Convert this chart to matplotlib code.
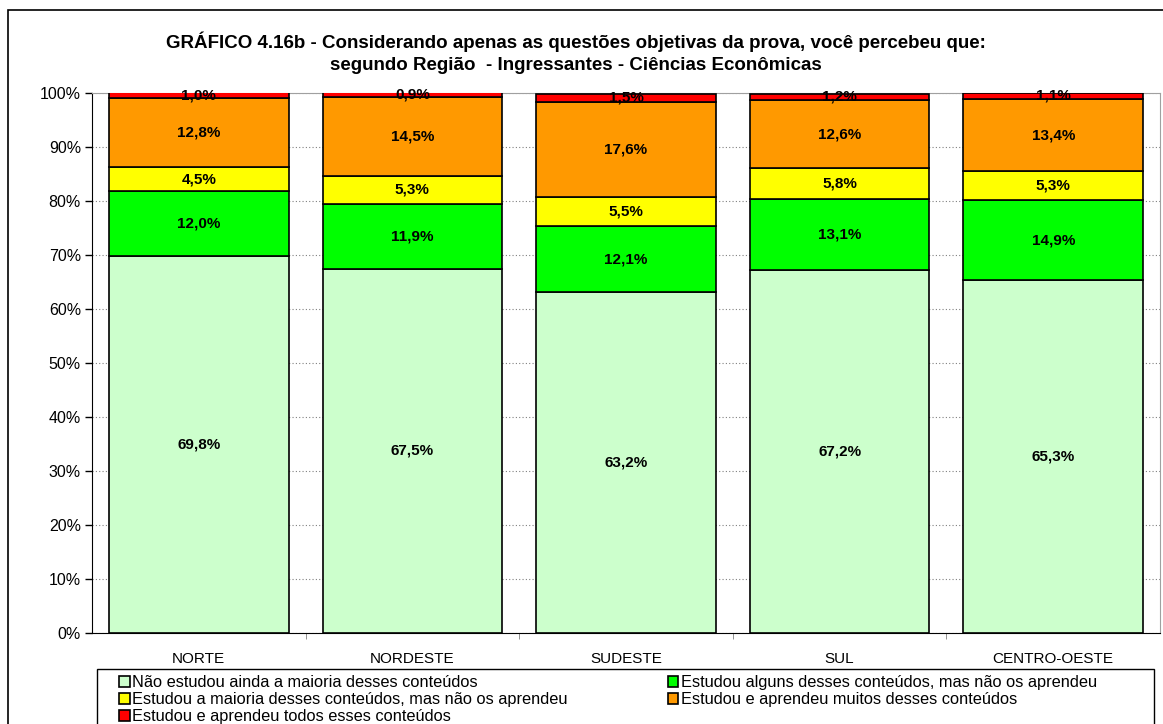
import matplotlib.pyplot as plt
import matplotlib.patches as mpatches
import numpy as np

plt.rcParams['font.family'] = ['Liberation Sans', 'DejaVu Sans']

regioes = ["NORTE", "NORDESTE", "SUDESTE", "SUL", "CENTRO-OESTE"]

nao_estudou = [69.8, 67.5, 63.2, 67.2, 65.3]
alguns_nao_aprendeu = [12.0, 11.9, 12.1, 13.1, 14.9]
maioria_nao_aprendeu = [4.5, 5.3, 5.5, 5.8, 5.3]
aprendeu_muitos = [12.8, 14.5, 17.6, 12.6, 13.4]
aprendeu_todos = [1.0, 0.9, 1.5, 1.2, 1.1]

series = [nao_estudou, alguns_nao_aprendeu, maioria_nao_aprendeu, aprendeu_muitos, aprendeu_todos]
legendas = ["Não estudou ainda a maioria desses conteúdos",
            "Estudou alguns desses conteúdos, mas não os aprendeu",
            "Estudou a maioria desses conteúdos, mas não os aprendeu",
            "Estudou e aprendeu muitos desses conteúdos",
            "Estudou e aprendeu todos esses conteúdos"]
cores = ["#CCFFCC", "#00FF00", "#FFFF00", "#FF9900", "#FF0000"]

fig = plt.figure(figsize=(11.63, 7.24), dpi=100)
ax = fig.add_axes([92/1163, 1-633/724, 1068/1163, 540/724])

x = np.arange(len(regioes))
base = np.zeros(len(regioes))
barras = []
for vals, cor, nome in zip(series, cores, legendas):
    vals = np.array(vals)
    b = ax.bar(x, vals, 0.84, bottom=base, color=cor, edgecolor="black",
               linewidth=1.2, label=nome, zorder=3)
    barras.append(b)
    for xi, yb, v in zip(x, base, vals):
        ax.text(xi, yb + v/2, f"{v:.1f}%".replace(".", ","), ha="center", va="center",
                fontsize=11, fontweight="bold", zorder=4)
    base = base + vals

ax.set_xlim(-0.5, 4.5)
ax.set_ylim(0, 100)
ax.set_yticks(range(0, 101, 10))
ax.set_yticklabels([f"{v}%" for v in range(0, 101, 10)], fontsize=11.5)
ax.set_xticks(x)
ax.set_xticklabels(regioes, fontsize=11)
ax.tick_params(axis="x", length=0, pad=14)
ax.tick_params(axis="y", length=5, width=1, direction="out", pad=3)
ax.set_xticks(np.arange(0.5, 4.5, 1), minor=True)
ax.tick_params(axis="x", which="minor", length=4, color="#808080")
ax.grid(axis="y", color="#808080", linestyle=(0, (1, 2)), linewidth=0.8, zorder=0)

ax.spines["top"].set_color("#A0A0A0")
ax.spines["right"].set_color("#A0A0A0")
ax.spines["left"].set_color("black")
ax.spines["bottom"].set_color("black")

fig.text(0.495, 1-42/724, "GRÁFICO 4.16b - Considerando apenas as questões objetivas da prova, você percebeu que:",
         ha="center", va="center", fontsize=13.5, fontweight="bold")
fig.text(0.495, 1-65/724, "segundo Região  - Ingressantes - Ciências Econômicas",
         ha="center", va="center", fontsize=13.5, fontweight="bold")

# moldura externa e caixa da legenda
fig.patches.append(mpatches.Rectangle((8/1163, -0.1), 1.2, 1.1 - 10/724, transform=fig.transFigure,
                                      fill=False, edgecolor="black", linewidth=1.2))
fig.patches.append(mpatches.Rectangle((97/1163, -0.1), (1154-97)/1163, 0.1 + 1-669/724,
                                      transform=fig.transFigure, fill=False, edgecolor="black", linewidth=1))

ordem = [0, 2, 4, 1, 3]
fig.legend([barras[i] for i in ordem], [legendas[i] for i in ordem], ncol=2,
           loc="upper left", bbox_to_anchor=(111/1163, 1-667/724), frameon=False,
           handlelength=0.65, handleheight=0.65, handletextpad=0.15,
           labelspacing=0.12, columnspacing=6.1, borderpad=0, prop={'size': 11.8})

fig.savefig("out.png", dpi=100)
